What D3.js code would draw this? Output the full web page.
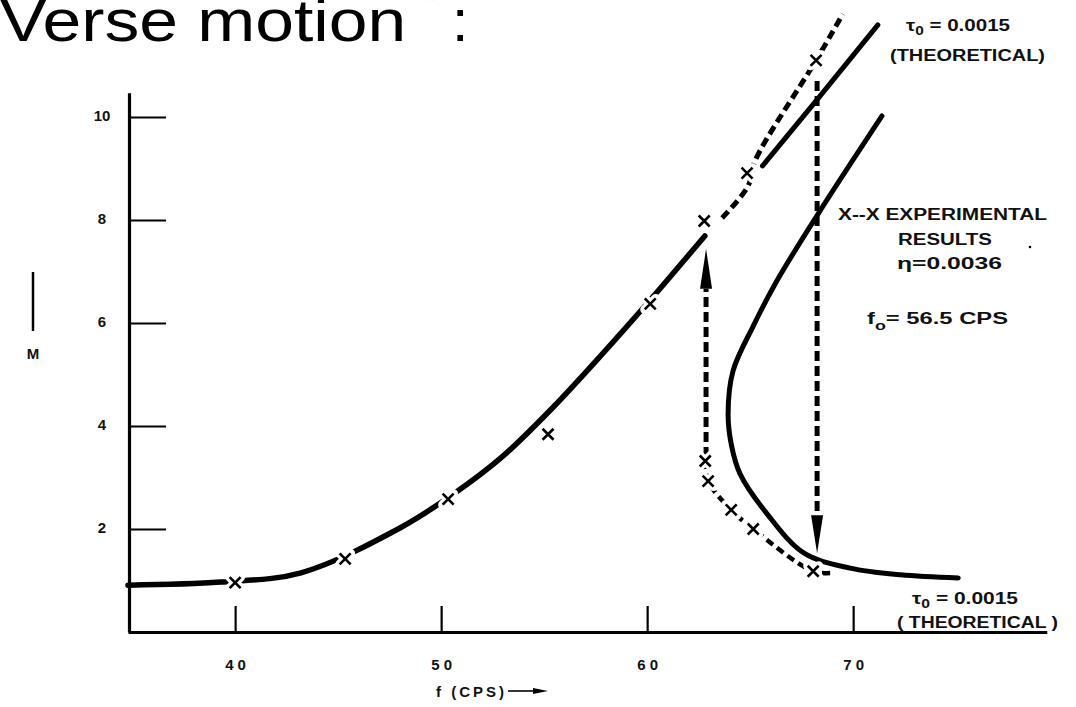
<!DOCTYPE html>
<html>
<head>
<meta charset="utf-8">
<script src="https://cdn.jsdelivr.net/npm/d3@7"></script>
<style>
  html, body { margin: 0; padding: 0; background: #fff; }
  svg { display: block; }
  .lbl { font-family: "Liberation Sans", Arial, sans-serif; font-weight: bold; fill: #111; }
</style>
</head>
<body>
<svg id="chart" width="1076" height="707"></svg>
<script>
// M vs f (CPS) -- theoretical response curves and experimental points

// theoretical curve, lower-left branch
const theoryLowF = [34.8, 39.3, 43.2, 48.0, 50.6, 52.9, 55.4, 58.7, 60.2, 62.8];
const theoryLowM = [0.91, 0.97, 1.15, 2.02, 2.68, 3.38, 4.35, 5.79, 6.47, 7.69];

// theoretical curve, upper continuation
const theoryUpF = [65.6, 68.4, 71.2];
const theoryUpM = [9.05, 10.41, 11.79];

// theoretical curve, right (folded) branch
const theoryFoldF = [71.4, 68.3, 66.3, 65.15, 64.17, 63.93, 64.1, 64.51, 65.83, 67.62, 69.85, 72.3, 75.1];
const theoryFoldM = [10.02, 8.12, 6.82, 5.94, 5.07, 4.23, 3.61, 3.07, 2.29, 1.53, 1.24, 1.11, 1.05];

// experimental points (x markers)
const expF = [40.0, 45.34, 50.34, 55.19, 60.15, 62.77, 64.85, 68.2, 62.82, 62.96, 64.08, 65.15, 68.06];
const expM = [0.96, 1.42, 2.58, 3.84, 6.37, 7.98, 8.91, 11.1, 3.32, 2.93, 2.37, 2.0, 1.18];

// experimental dashed connections
const expUpF = [63.64, 64.9, 65.24, 68.2, 69.5];
const expUpM = [8.04, 8.66, 9.15, 11.1, 12.0];
const expDownF = [62.82, 62.96, 64.08, 65.15, 68.06, 69.1];
const expDownM = [3.32, 2.93, 2.37, 2.0, 1.18, 1.15];

// jumps (f, M from, M to)
const jumpUp = { f: 62.86, from: 3.4, to: 7.44 };
const jumpDown = { f: 68.25, from: 10.7, to: 1.53 };

const xTicks = [40, 50, 60, 70];
const yTicks = [2, 4, 6, 8, 10];

const svg = d3.select("#chart");

const x = d3.scaleLinear().domain([34.8, 79.4]).range([128, 1046.8]);
const y = d3.scaleLinear().domain([0, 10.47]).range([632, 92.8]);

const pts = (fs, ms) => fs.map((f, i) => [x(f), y(ms[i])]);

// title fragment at top (cut by the slide edge, as in the source)
const title = svg.append("g").attr("transform", "translate(0,41) scale(1.18,1)");
title.append("text")
  .attr("x", 0).attr("y", 0)
  .attr("font-family", "Liberation Sans, Arial, sans-serif")
  .attr("font-size", 59)
  .attr("fill", "#000")
  .text("Verse motion");
svg.append("text")
  .attr("x", 452).attr("y", 41)
  .attr("font-family", "Liberation Sans, Arial, sans-serif")
  .attr("font-size", 59)
  .attr("fill", "#000")
  .text(":");
svg.append("text")
  .attr("x", 425).attr("y", 5)
  .attr("font-family", "Liberation Sans, Arial, sans-serif")
  .attr("font-size", 14)
  .attr("fill", "#333")
  .text("**");

// axes
const xAxis = d3.axisBottom(x)
  .tickValues(xTicks)
  .tickSizeInner(-26)
  .tickSizeOuter(0)
  .tickPadding(27)
  .tickFormat(d3.format("d"));

const gx = svg.append("g")
  .attr("transform", `translate(0,${y(0)})`)
  .call(xAxis);
gx.select(".domain").attr("stroke", "#000").attr("stroke-width", 3.2);
gx.selectAll(".tick line").attr("stroke", "#000").attr("stroke-width", 2.2);
gx.selectAll(".tick text")
  .attr("class", "lbl")
  .attr("font-size", 15)
  .attr("letter-spacing", 4)
  .attr("dx", 2)
  .attr("fill", "#111");

const yAxis = d3.axisLeft(y)
  .tickValues(yTicks)
  .tickSizeInner(-37)
  .tickSizeOuter(0)
  .tickPadding(22)
  .tickFormat(d3.format("d"));

const gy = svg.append("g")
  .attr("transform", `translate(${x(34.8) + 1},0)`)
  .call(yAxis);
gy.select(".domain").attr("stroke", "#000").attr("stroke-width", 3.2);
gy.selectAll(".tick line").attr("stroke", "#000").attr("stroke-width", 2.2);
gy.selectAll(".tick text")
  .attr("class", "lbl")
  .attr("font-size", 15)
  .attr("text-anchor", "middle")
  .attr("x", -27)
  .attr("dy", "0.2em")
  .attr("fill", "#111");

// axis labels
svg.append("line")
  .attr("x1", 33).attr("x2", 33).attr("y1", 272).attr("y2", 331)
  .attr("stroke", "#000").attr("stroke-width", 2.5);
svg.append("text").attr("class", "lbl")
  .attr("x", 33).attr("y", 359)
  .attr("text-anchor", "middle")
  .attr("font-size", 15)
  .text("M");

svg.append("text").attr("class", "lbl")
  .attr("x", 436).attr("y", 697)
  .attr("font-size", 15)
  .attr("letter-spacing", 3)
  .text("f (CPS)");
svg.append("line")
  .attr("x1", 508).attr("x2", 538).attr("y1", 691).attr("y2", 691)
  .attr("stroke", "#000").attr("stroke-width", 1.6);
svg.append("path")
  .attr("d", "M533,688 L548,691 L533,694 Z")
  .attr("fill", "#000");

// curves
const smooth = d3.line().curve(d3.curveCatmullRom.alpha(0.5));
const straight = d3.line();

svg.append("path")
  .attr("d", smooth(pts(theoryLowF, theoryLowM)))
  .attr("fill", "none").attr("stroke", "#000")
  .attr("stroke-width", 5.5).attr("stroke-linecap", "round");

svg.append("path")
  .attr("d", straight(pts(theoryUpF, theoryUpM)))
  .attr("fill", "none").attr("stroke", "#000")
  .attr("stroke-width", 5).attr("stroke-linecap", "round");

svg.append("path")
  .attr("d", smooth(pts(theoryFoldF, theoryFoldM)))
  .attr("fill", "none").attr("stroke", "#000")
  .attr("stroke-width", 5).attr("stroke-linecap", "round");

// experimental dashed lines
svg.append("path")
  .attr("d", smooth(pts(expUpF, expUpM)))
  .attr("fill", "none").attr("stroke", "#000")
  .attr("stroke-width", 5).attr("stroke-dasharray", "9,5");

svg.append("path")
  .attr("d", smooth(pts(expDownF, expDownM)))
  .attr("fill", "none").attr("stroke", "#000")
  .attr("stroke-width", 4.5).attr("stroke-dasharray", "8,5");

// jump arrows
function jumpArrow(j, up) {
  const x0 = x(j.f);
  const y0 = y(j.from);
  const yTip = y(j.to);
  const head = up ? 40 : 38;
  const yBase = up ? yTip + head : yTip - head;
  svg.append("line")
    .attr("x1", x0).attr("x2", x0)
    .attr("y1", y0).attr("y2", yBase)
    .attr("stroke", "#000").attr("stroke-width", 5)
    .attr("stroke-dasharray", "10,5");
  svg.append("path")
    .attr("d", `M${x0 - 6},${yBase} L${x0},${yTip} L${x0 + 6},${yBase} Z`)
    .attr("fill", "#000");
}
jumpArrow(jumpUp, true);
jumpArrow(jumpDown, false);

// x markers with white halo to break the line
const marks = svg.append("g");
pts(expF, expM).forEach(([px, py]) => {
  const s = 5.5;
  const d = `M${px - s},${py - s}L${px + s},${py + s}M${px + s},${py - s}L${px - s},${py + s}`;
  marks.append("path").attr("d", d)
    .attr("stroke", "#fff").attr("stroke-width", 9).attr("stroke-linecap", "round");
  marks.append("path").attr("d", d)
    .attr("stroke", "#000").attr("stroke-width", 2.6);
});

// annotations (the scan is stretched sideways, so widths are fitted)
function note(tx, ty, str, w, size) {
  return svg.append("text").attr("class", "lbl")
    .attr("x", tx).attr("y", ty)
    .attr("font-size", size || 16)
    .attr("textLength", w)
    .attr("lengthAdjust", "spacingAndGlyphs")
    .text(str);
}

function tauLabel(tx, ty, w) {
  const t = svg.append("text").attr("class", "lbl")
    .attr("x", tx).attr("y", ty).attr("font-size", 16)
    .attr("textLength", w)
    .attr("lengthAdjust", "spacingAndGlyphs");
  t.append("tspan").text("τ");
  t.append("tspan").attr("font-size", 12).attr("dy", 4).text("0");
  t.append("tspan").attr("dy", -4).text(" = 0.0015");
}

tauLabel(906, 31, 104);
note(890, 61, "(THEORETICAL)", 155);

note(838, 220, "X--X EXPERIMENTAL", 209);
note(898, 245, "RESULTS", 94);
note(897, 269, "η=0.0036", 105, 17);
svg.append("circle").attr("cx", 1030).attr("cy", 247).attr("r", 1.3).attr("fill", "#000");

const f0 = svg.append("text").attr("class", "lbl")
  .attr("x", 867).attr("y", 324).attr("font-size", 16)
  .attr("textLength", 141)
  .attr("lengthAdjust", "spacingAndGlyphs");
f0.append("tspan").text("f");
f0.append("tspan").attr("font-size", 12).attr("dy", 6).text("o");
f0.append("tspan").attr("dy", -6).text("= 56.5 CPS");

tauLabel(912, 604, 106);
note(897, 628, "( THEORETICAL )", 161);
</script>
</body>
</html>
